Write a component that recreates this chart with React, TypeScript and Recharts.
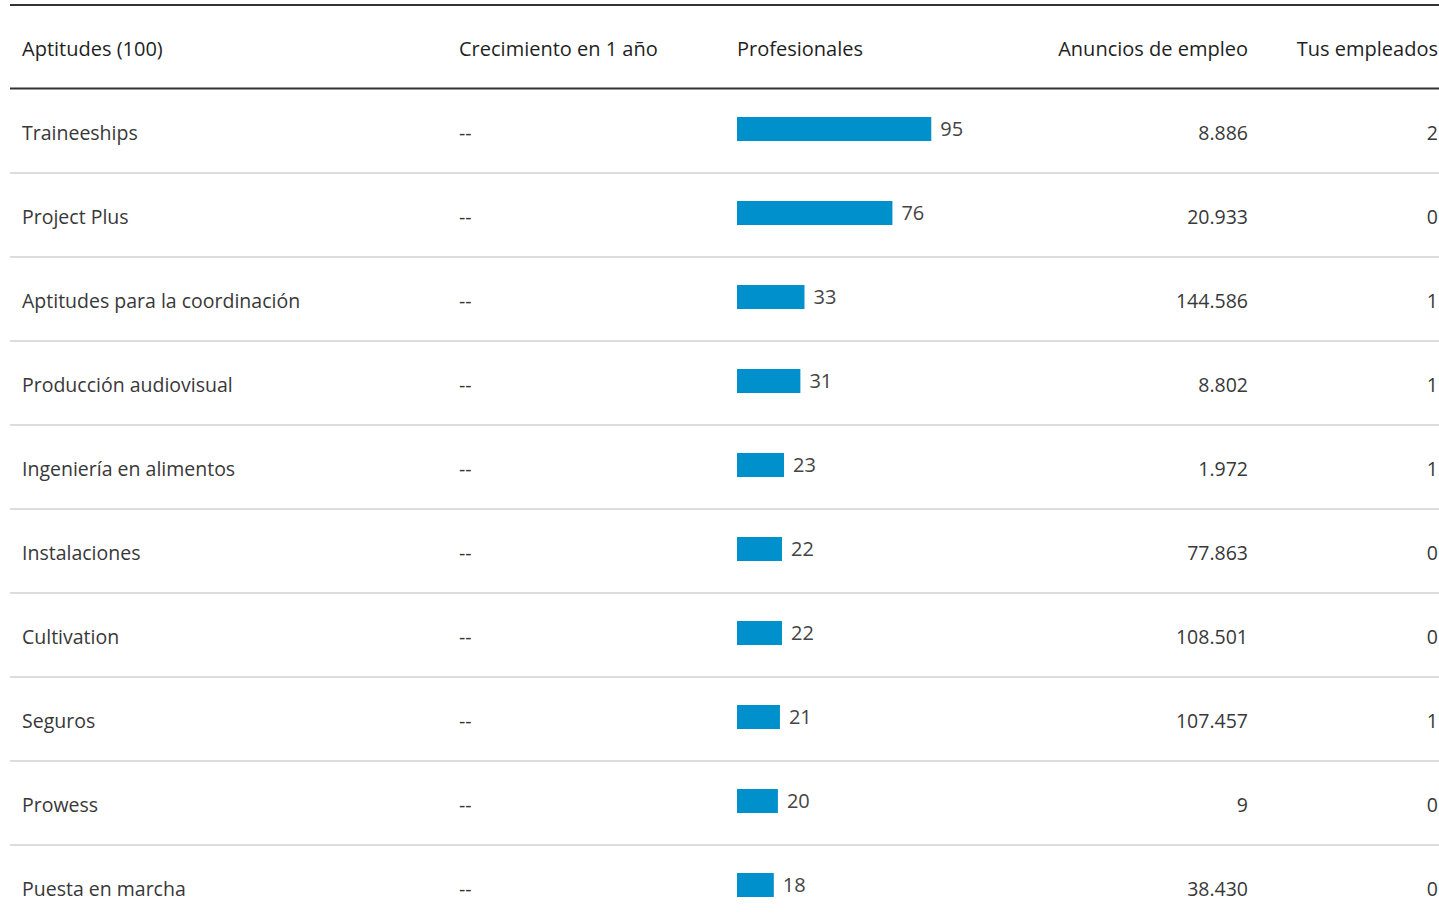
import React from "react";
import { BarChart, Bar, XAxis, YAxis, LabelList } from "recharts";

const skills = [
  "Traineeships",
  "Project Plus",
  "Aptitudes para la coordinación",
  "Producción audiovisual",
  "Ingeniería en alimentos",
  "Instalaciones",
  "Cultivation",
  "Seguros",
  "Prowess",
  "Puesta en marcha",
];
const growth = ["--", "--", "--", "--", "--", "--", "--", "--", "--", "--"];
const profesionales = [95, 76, 33, 31, 23, 22, 22, 21, 20, 18];
const anuncios = [
  "8.886",
  "20.933",
  "144.586",
  "8.802",
  "1.972",
  "77.863",
  "108.501",
  "107.457",
  "9",
  "38.430",
];
const tusEmpleados = [2, 0, 1, 1, 1, 0, 0, 1, 0, 0];

const headers = [
  "Aptitudes (100)",
  "Crecimiento en 1 año",
  "Profesionales",
  "Anuncios de empleo",
  "Tus empleados",
];

const FONT = "'Open Sans', 'Noto Sans', sans-serif";
const TEXT = "#383838";
const HEAD = "#1f1f1f";
const BAR = "#0090cb";
const ROW_FS = 19.5;
const HEAD_FS = 20;

const rows = skills.map((s, i) => ({
  skill: s,
  growth: growth[i],
  prof: profesionales[i],
  anuncios: anuncios[i],
  tus: tusEmpleados[i],
}));

function RowTick(props: any) {
  const { y, payload } = props;
  const i = payload.index;
  const r = rows[i];
  const base = y + 10.5;
  return (
    <g>
      <text x={22} y={base} fontSize={ROW_FS} fill={TEXT} fontFamily={FONT}>
        {r.skill}
      </text>
      <text x={459} y={base} fontSize={ROW_FS} fill={TEXT} fontFamily={FONT}>
        {r.growth}
      </text>
      <text x={1248} y={base} fontSize={ROW_FS} fill={TEXT} fontFamily={FONT} textAnchor="end">
        {r.anuncios}
      </text>
      <text x={1438} y={base} fontSize={ROW_FS} fill={TEXT} fontFamily={FONT} textAnchor="end">
        {r.tus}
      </text>
      {i < rows.length - 1 && (
        <line x1={10} x2={1439} y1={y + 44} y2={y + 44} stroke="#dcdcdc" strokeWidth={2} />
      )}
    </g>
  );
}

export default function App() {
  return (
    <div
      style={{
        position: "absolute",
        left: 0,
        top: 0,
        width: 1439,
        height: 923,
        overflow: "hidden",
        background: "#fff",
        fontFamily: FONT,
      }}
    >
      <svg width={1439} height={100} style={{ position: "absolute", left: 0, top: 0 }}>
        <line x1={10} x2={1439} y1={5} y2={5} stroke="#333" strokeWidth={2} />
        <text x={22} y={56} fontSize={HEAD_FS} fill={HEAD} fontFamily={FONT}>
          {headers[0]}
        </text>
        <text x={459} y={56} fontSize={HEAD_FS} fill={HEAD} fontFamily={FONT}>
          {headers[1]}
        </text>
        <text x={737} y={56} fontSize={HEAD_FS} fill={HEAD} fontFamily={FONT}>
          {headers[2]}
        </text>
        <text x={1248} y={56} fontSize={HEAD_FS} fill={HEAD} fontFamily={FONT} textAnchor="end">
          {headers[3]}
        </text>
        <text x={1438} y={56} fontSize={HEAD_FS} fill={HEAD} fontFamily={FONT} textAnchor="end">
          {headers[4]}
        </text>
        <line x1={10} x2={1439} y1={88.5} y2={88.5} stroke="#333" strokeWidth={2} />
      </svg>
      <div style={{ position: "absolute", left: 0, top: 0 }}>
        <BarChart
          width={1439}
          height={927}
          data={rows}
          layout="vertical"
          margin={{ top: 87, right: 497.5, bottom: 0, left: 736 }}
        >
          <XAxis type="number" domain={[0, 100]} hide />
          <YAxis
            type="category"
            dataKey="skill"
            width={1}
            interval={0}
            axisLine={false}
            tickLine={false}
            tick={<RowTick />}
          />
          <Bar dataKey="prof" fill={BAR} barSize={24} isAnimationActive={false}>
            <LabelList
              dataKey="prof"
              position="right"
              offset={9}
              fill="#444"
              fontSize={20}
              fontFamily={FONT}
            />
          </Bar>
        </BarChart>
      </div>
    </div>
  );
}
